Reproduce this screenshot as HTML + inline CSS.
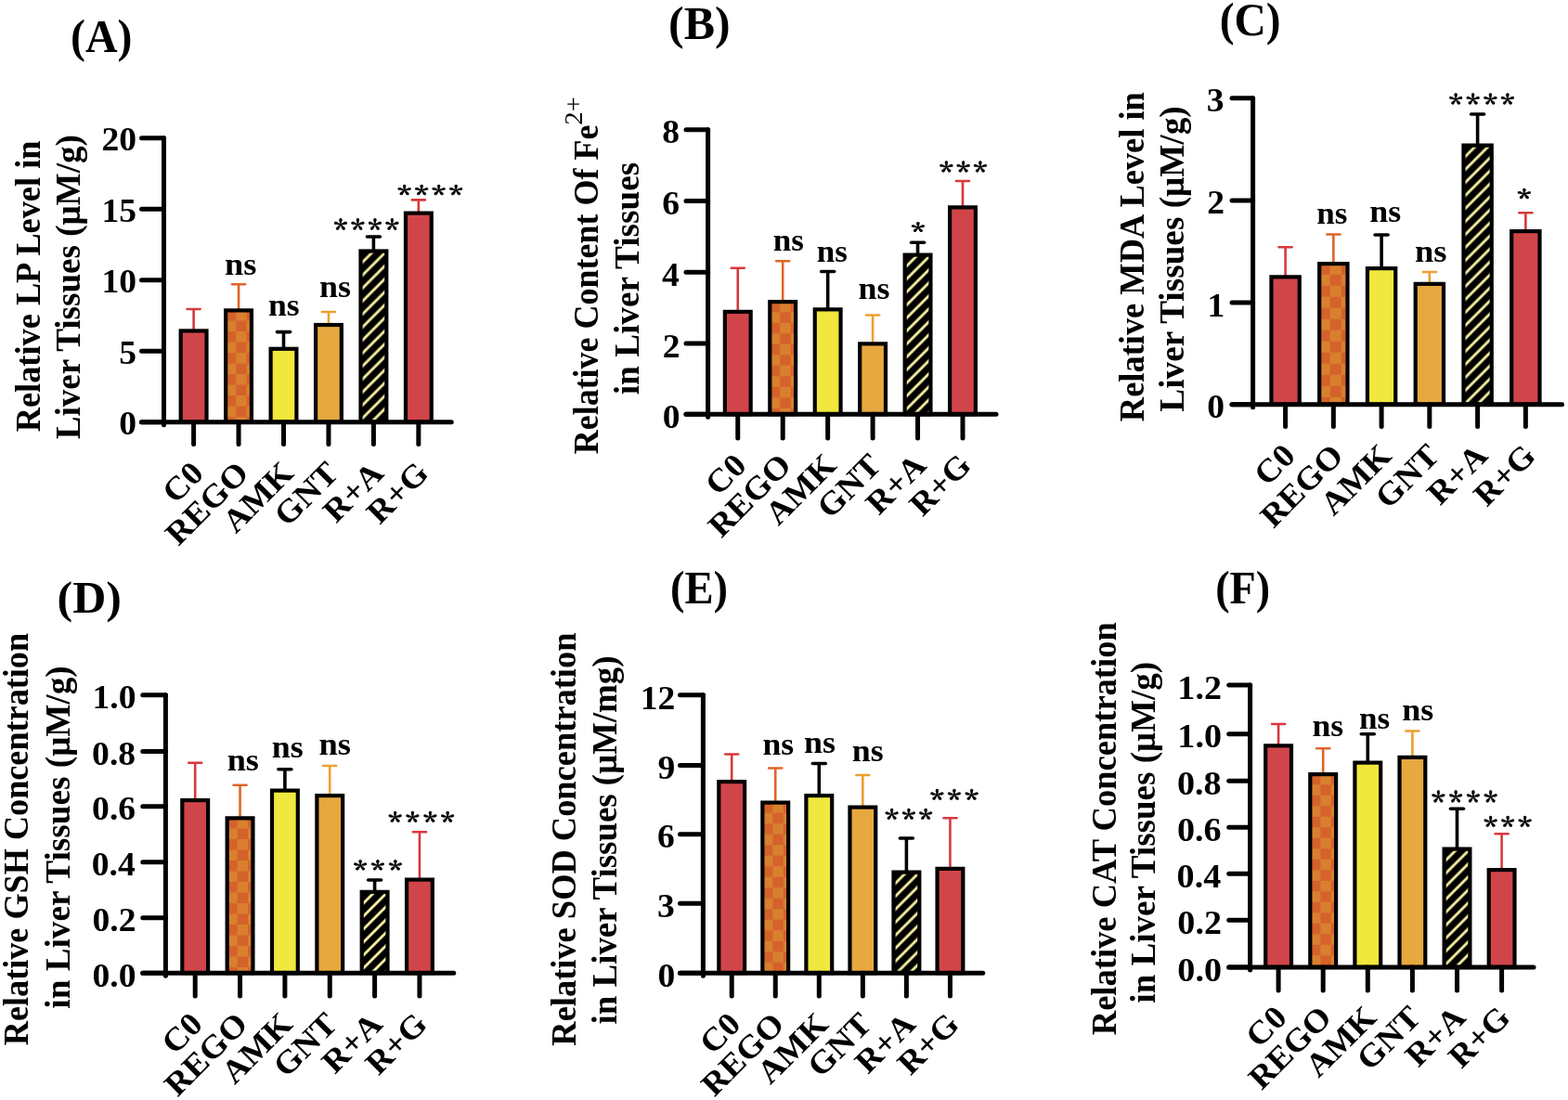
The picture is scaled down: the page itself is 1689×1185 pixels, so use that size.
<!DOCTYPE html>
<html><head><meta charset="utf-8"><title>Figure</title>
<style>html,body{margin:0;padding:0;background:#fff;}svg{display:block;}text{font-family:'Liberation Serif', 'Times New Roman', serif;}</style></head>
<body><svg width="1689" height="1185" viewBox="0 0 1689 1185">
<rect width="1689" height="1185" fill="#fff"/>
<defs><pattern id="pA1" x="242.65" y="334.10" width="23.00" height="23.00" patternUnits="userSpaceOnUse"><rect width="23.00" height="23.00" fill="#d9802f"/><rect width="11.50" height="11.50" fill="#d4622a"/><rect x="11.50" y="11.50" width="11.50" height="11.50" fill="#d4622a"/></pattern><pattern id="pA4" x="390.60" y="272.60" width="14" height="14" patternUnits="userSpaceOnUse"><rect width="14" height="14" fill="#000"/><path d="M-3.0,12.7 L12.7,-3.0 M6.7,17.0 L17.0,6.7" stroke="#faf3a4" stroke-width="2.8"/></pattern><pattern id="pB1" x="828.80" y="324.80" width="23.00" height="23.00" patternUnits="userSpaceOnUse"><rect width="23.00" height="23.00" fill="#d9802f"/><rect width="11.50" height="11.50" fill="#d4622a"/><rect x="11.50" y="11.50" width="11.50" height="11.50" fill="#d4622a"/></pattern><pattern id="pB4" x="976.75" y="276.70" width="14" height="14" patternUnits="userSpaceOnUse"><rect width="14" height="14" fill="#000"/><path d="M-3.0,12.7 L12.7,-3.0 M6.7,17.0 L17.0,6.7" stroke="#faf3a4" stroke-width="2.8"/></pattern><pattern id="pC1" x="1420.70" y="283.80" width="24.00" height="24.00" patternUnits="userSpaceOnUse"><rect width="24.00" height="24.00" fill="#d9802f"/><rect width="12.00" height="12.00" fill="#d4622a"/><rect x="12.00" y="12.00" width="12.00" height="12.00" fill="#d4622a"/></pattern><pattern id="pC4" x="1578.55" y="158.70" width="14" height="14" patternUnits="userSpaceOnUse"><rect width="14" height="14" fill="#000"/><path d="M-3.0,12.7 L12.7,-3.0 M6.7,17.0 L17.0,6.7" stroke="#faf3a4" stroke-width="2.8"/></pattern><pattern id="pD1" x="244.15" y="881.05" width="23.00" height="23.00" patternUnits="userSpaceOnUse"><rect width="23.00" height="23.00" fill="#d9802f"/><rect width="11.50" height="11.50" fill="#d4622a"/><rect x="11.50" y="11.50" width="11.50" height="11.50" fill="#d4622a"/></pattern><pattern id="pD4" x="391.80" y="962.95" width="14" height="14" patternUnits="userSpaceOnUse"><rect width="14" height="14" fill="#000"/><path d="M-3.0,12.7 L12.7,-3.0 M6.7,17.0 L17.0,6.7" stroke="#faf3a4" stroke-width="2.8"/></pattern><pattern id="pE1" x="820.85" y="864.30" width="23.00" height="23.00" patternUnits="userSpaceOnUse"><rect width="23.00" height="23.00" fill="#d9802f"/><rect width="11.50" height="11.50" fill="#d4622a"/><rect x="11.50" y="11.50" width="11.50" height="11.50" fill="#d4622a"/></pattern><pattern id="pE4" x="964.60" y="941.70" width="14" height="14" patternUnits="userSpaceOnUse"><rect width="14" height="14" fill="#000"/><path d="M-3.0,12.7 L12.7,-3.0 M6.7,17.0 L17.0,6.7" stroke="#faf3a4" stroke-width="2.8"/></pattern><pattern id="pF1" x="1410.80" y="833.80" width="23.00" height="23.00" patternUnits="userSpaceOnUse"><rect width="23.00" height="23.00" fill="#d9802f"/><rect width="11.50" height="11.50" fill="#d4622a"/><rect x="11.50" y="11.50" width="11.50" height="11.50" fill="#d4622a"/></pattern><pattern id="pF4" x="1557.70" y="916.70" width="14" height="14" patternUnits="userSpaceOnUse"><rect width="14" height="14" fill="#000"/><path d="M-3.0,12.7 L12.7,-3.0 M6.7,17.0 L17.0,6.7" stroke="#faf3a4" stroke-width="2.8"/></pattern></defs>
<line x1="208.60" y1="356.30" x2="208.60" y2="333.00" stroke="#d8383c" stroke-width="2.6"/>
<line x1="201.60" y1="333.00" x2="215.60" y2="333.00" stroke="#d8383c" stroke-width="2.6" stroke-linecap="round"/>
<rect x="194.70" y="356.40" width="27.80" height="98.30" fill="#d0454a" stroke="#000" stroke-width="4.2"/>
<line x1="208.60" y1="454.70" x2="208.60" y2="478.50" stroke="#000" stroke-width="5" stroke-linecap="round"/>
<line x1="257.05" y1="334.30" x2="257.05" y2="306.30" stroke="#e0642a" stroke-width="2.6"/>
<line x1="250.05" y1="306.30" x2="264.05" y2="306.30" stroke="#e0642a" stroke-width="2.6" stroke-linecap="round"/>
<rect x="243.15" y="334.40" width="27.80" height="120.30" fill="url(#pA1)" stroke="#000" stroke-width="4.2"/>
<line x1="257.05" y1="454.70" x2="257.05" y2="478.50" stroke="#000" stroke-width="5" stroke-linecap="round"/>
<line x1="305.50" y1="375.70" x2="305.50" y2="357.60" stroke="#000" stroke-width="3.6"/>
<line x1="298.50" y1="357.60" x2="312.50" y2="357.60" stroke="#000" stroke-width="3.6" stroke-linecap="round"/>
<rect x="291.60" y="375.80" width="27.80" height="78.90" fill="#f0e83c" stroke="#000" stroke-width="4.2"/>
<line x1="305.50" y1="454.70" x2="305.50" y2="478.50" stroke="#000" stroke-width="5" stroke-linecap="round"/>
<line x1="353.95" y1="349.90" x2="353.95" y2="336.00" stroke="#eba030" stroke-width="2.6"/>
<line x1="346.95" y1="336.00" x2="360.95" y2="336.00" stroke="#eba030" stroke-width="2.6" stroke-linecap="round"/>
<rect x="340.05" y="350.00" width="27.80" height="104.70" fill="#e6a83f" stroke="#000" stroke-width="4.2"/>
<line x1="353.95" y1="454.70" x2="353.95" y2="478.50" stroke="#000" stroke-width="5" stroke-linecap="round"/>
<line x1="402.40" y1="270.40" x2="402.40" y2="255.00" stroke="#000" stroke-width="3.6"/>
<line x1="395.40" y1="255.00" x2="409.40" y2="255.00" stroke="#000" stroke-width="3.6" stroke-linecap="round"/>
<rect x="388.50" y="270.50" width="27.80" height="184.20" fill="url(#pA4)" stroke="#000" stroke-width="4.2"/>
<line x1="402.40" y1="454.70" x2="402.40" y2="478.50" stroke="#000" stroke-width="5" stroke-linecap="round"/>
<line x1="450.85" y1="229.50" x2="450.85" y2="215.40" stroke="#d8383c" stroke-width="2.6"/>
<line x1="443.85" y1="215.40" x2="457.85" y2="215.40" stroke="#d8383c" stroke-width="2.6" stroke-linecap="round"/>
<rect x="436.95" y="229.60" width="27.80" height="225.10" fill="#d0454a" stroke="#000" stroke-width="4.2"/>
<line x1="450.85" y1="454.70" x2="450.85" y2="478.50" stroke="#000" stroke-width="5" stroke-linecap="round"/>
<line x1="176.50" y1="148.75" x2="176.50" y2="457.70" stroke="#000" stroke-width="5" stroke-linecap="round"/>
<line x1="152.50" y1="454.70" x2="486.25" y2="454.70" stroke="#000" stroke-width="5" stroke-linecap="round"/>
<line x1="152.50" y1="148.75" x2="176.50" y2="148.75" stroke="#000" stroke-width="5" stroke-linecap="round"/>
<line x1="152.50" y1="225.25" x2="176.50" y2="225.25" stroke="#000" stroke-width="5" stroke-linecap="round"/>
<line x1="152.50" y1="301.75" x2="176.50" y2="301.75" stroke="#000" stroke-width="5" stroke-linecap="round"/>
<line x1="152.50" y1="378.25" x2="176.50" y2="378.25" stroke="#000" stroke-width="5" stroke-linecap="round"/>
<line x1="152.50" y1="454.70" x2="176.50" y2="454.70" stroke="#000" stroke-width="5" stroke-linecap="round"/>
<text transform="translate(109.48,161.93) scale(1.0600,1)" font-size="35.50" font-weight="bold">20</text>
<text transform="translate(109.48,238.79) scale(1.0600,1)" font-size="35.50" font-weight="bold">15</text>
<text transform="translate(109.48,315.11) scale(1.0600,1)" font-size="35.50" font-weight="bold">10</text>
<text transform="translate(128.29,391.61) scale(1.0600,1)" font-size="35.50" font-weight="bold">5</text>
<text transform="translate(128.29,467.88) scale(1.0600,1)" font-size="35.50" font-weight="bold">0</text>
<text transform="translate(221.10,511.70) rotate(-45) scale(1.060,1)" font-size="35" font-weight="bold" text-anchor="end">C0</text>
<text transform="translate(269.55,511.70) rotate(-45) scale(1.060,1)" font-size="35" font-weight="bold" text-anchor="end">REGO</text>
<text transform="translate(318.00,511.70) rotate(-45) scale(1.060,1)" font-size="35" font-weight="bold" text-anchor="end">AMK</text>
<text transform="translate(366.45,511.70) rotate(-45) scale(1.060,1)" font-size="35" font-weight="bold" text-anchor="end">GNT</text>
<text transform="translate(414.90,511.70) rotate(-45) scale(1.060,1)" font-size="35" font-weight="bold" text-anchor="end">R+A</text>
<text transform="translate(463.35,511.70) rotate(-45) scale(1.060,1)" font-size="35" font-weight="bold" text-anchor="end">R+G</text>
<text transform="translate(241.91,296.25) scale(1.0522,1)" font-size="34.60" font-weight="bold" fill="#000">ns</text>
<text transform="translate(288.93,339.65) scale(1.0310,1)" font-size="34.60" font-weight="bold" fill="#000">ns</text>
<text transform="translate(343.92,319.65) scale(1.0392,1)" font-size="34.60" font-weight="bold" fill="#000">ns</text>
<text transform="translate(359.39,258.58) scale(1.0716,1)" font-size="28.41" font-weight="bold" letter-spacing="3.49" stroke="#000" stroke-width="0.5" style="font-family:'Noto Serif CJK SC',serif">****</text>
<text transform="translate(428.14,219.97) scale(1.1907,1)" font-size="25.57" font-weight="bold" letter-spacing="3.14" stroke="#000" stroke-width="0.5" style="font-family:'Noto Serif CJK SC',serif">****</text>
<text transform="translate(76.09,56.37) scale(0.9633,1)" font-size="49.67" font-weight="bold" fill="#000">(A)</text>
<text transform="translate(42.50,465.23) rotate(-90) scale(0.9687,1)" font-size="37.50" font-weight="bold">Relative LP Level in</text>
<text transform="translate(86.10,473.34) rotate(-90) scale(0.9898,1)" font-size="37.50" font-weight="bold">Liver Tissues (μM/g)</text>
<line x1="794.75" y1="335.75" x2="794.75" y2="288.75" stroke="#d8383c" stroke-width="2.6"/>
<line x1="787.75" y1="288.75" x2="801.75" y2="288.75" stroke="#d8383c" stroke-width="2.6" stroke-linecap="round"/>
<rect x="780.85" y="335.85" width="27.80" height="110.35" fill="#d0454a" stroke="#000" stroke-width="4.2"/>
<line x1="794.75" y1="446.20" x2="794.75" y2="472.00" stroke="#000" stroke-width="5" stroke-linecap="round"/>
<line x1="843.20" y1="325.00" x2="843.20" y2="281.25" stroke="#e0642a" stroke-width="2.6"/>
<line x1="836.20" y1="281.25" x2="850.20" y2="281.25" stroke="#e0642a" stroke-width="2.6" stroke-linecap="round"/>
<rect x="829.30" y="325.10" width="27.80" height="121.10" fill="url(#pB1)" stroke="#000" stroke-width="4.2"/>
<line x1="843.20" y1="446.20" x2="843.20" y2="472.00" stroke="#000" stroke-width="5" stroke-linecap="round"/>
<line x1="891.65" y1="333.25" x2="891.65" y2="292.50" stroke="#000" stroke-width="3.6"/>
<line x1="884.65" y1="292.50" x2="898.65" y2="292.50" stroke="#000" stroke-width="3.6" stroke-linecap="round"/>
<rect x="877.75" y="333.35" width="27.80" height="112.85" fill="#f0e83c" stroke="#000" stroke-width="4.2"/>
<line x1="891.65" y1="446.20" x2="891.65" y2="472.00" stroke="#000" stroke-width="5" stroke-linecap="round"/>
<line x1="940.10" y1="370.25" x2="940.10" y2="339.50" stroke="#eba030" stroke-width="2.6"/>
<line x1="933.10" y1="339.50" x2="947.10" y2="339.50" stroke="#eba030" stroke-width="2.6" stroke-linecap="round"/>
<rect x="926.20" y="370.35" width="27.80" height="75.85" fill="#e6a83f" stroke="#000" stroke-width="4.2"/>
<line x1="940.10" y1="446.20" x2="940.10" y2="472.00" stroke="#000" stroke-width="5" stroke-linecap="round"/>
<line x1="988.55" y1="274.50" x2="988.55" y2="261.25" stroke="#000" stroke-width="3.6"/>
<line x1="981.55" y1="261.25" x2="995.55" y2="261.25" stroke="#000" stroke-width="3.6" stroke-linecap="round"/>
<rect x="974.65" y="274.60" width="27.80" height="171.60" fill="url(#pB4)" stroke="#000" stroke-width="4.2"/>
<line x1="988.55" y1="446.20" x2="988.55" y2="472.00" stroke="#000" stroke-width="5" stroke-linecap="round"/>
<line x1="1037.00" y1="223.25" x2="1037.00" y2="195.00" stroke="#d8383c" stroke-width="2.6"/>
<line x1="1030.00" y1="195.00" x2="1044.00" y2="195.00" stroke="#d8383c" stroke-width="2.6" stroke-linecap="round"/>
<rect x="1023.10" y="223.35" width="27.80" height="222.85" fill="#d0454a" stroke="#000" stroke-width="4.2"/>
<line x1="1037.00" y1="446.20" x2="1037.00" y2="472.00" stroke="#000" stroke-width="5" stroke-linecap="round"/>
<line x1="762.60" y1="139.70" x2="762.60" y2="449.20" stroke="#000" stroke-width="5" stroke-linecap="round"/>
<line x1="739.00" y1="446.20" x2="1073.00" y2="446.20" stroke="#000" stroke-width="5" stroke-linecap="round"/>
<line x1="739.00" y1="139.70" x2="762.60" y2="139.70" stroke="#000" stroke-width="5" stroke-linecap="round"/>
<line x1="739.00" y1="216.50" x2="762.60" y2="216.50" stroke="#000" stroke-width="5" stroke-linecap="round"/>
<line x1="739.00" y1="293.30" x2="762.60" y2="293.30" stroke="#000" stroke-width="5" stroke-linecap="round"/>
<line x1="739.00" y1="370.10" x2="762.60" y2="370.10" stroke="#000" stroke-width="5" stroke-linecap="round"/>
<line x1="739.00" y1="446.20" x2="762.60" y2="446.20" stroke="#000" stroke-width="5" stroke-linecap="round"/>
<text transform="translate(713.31,154.38) scale(1.0600,1)" font-size="35.50" font-weight="bold">8</text>
<text transform="translate(713.31,231.18) scale(1.0600,1)" font-size="35.50" font-weight="bold">6</text>
<text transform="translate(712.94,308.34) scale(1.0600,1)" font-size="35.50" font-weight="bold">4</text>
<text transform="translate(713.69,384.96) scale(1.0600,1)" font-size="35.50" font-weight="bold">2</text>
<text transform="translate(713.69,460.88) scale(1.0600,1)" font-size="35.50" font-weight="bold">0</text>
<text transform="translate(805.75,503.20) rotate(-45) scale(1.060,1)" font-size="35" font-weight="bold" text-anchor="end">C0</text>
<text transform="translate(854.20,503.20) rotate(-45) scale(1.060,1)" font-size="35" font-weight="bold" text-anchor="end">REGO</text>
<text transform="translate(902.65,503.20) rotate(-45) scale(1.060,1)" font-size="35" font-weight="bold" text-anchor="end">AMK</text>
<text transform="translate(951.10,503.20) rotate(-45) scale(1.060,1)" font-size="35" font-weight="bold" text-anchor="end">GNT</text>
<text transform="translate(999.55,503.20) rotate(-45) scale(1.060,1)" font-size="35" font-weight="bold" text-anchor="end">R+A</text>
<text transform="translate(1048.00,503.20) rotate(-45) scale(1.060,1)" font-size="35" font-weight="bold" text-anchor="end">R+G</text>
<text transform="translate(832.70,269.65) scale(1.0148,1)" font-size="34.60" font-weight="bold" fill="#000">ns</text>
<text transform="translate(879.70,282.15) scale(1.0148,1)" font-size="34.60" font-weight="bold" fill="#000">ns</text>
<text transform="translate(924.42,322.15) scale(1.0392,1)" font-size="34.60" font-weight="bold" fill="#000">ns</text>
<text transform="translate(981.39,259.31) scale(1.2758,1)" font-size="23.86" font-weight="bold" letter-spacing="0.00" stroke="#000" stroke-width="0.5" style="font-family:'Noto Serif CJK SC',serif">*</text>
<text transform="translate(1011.89,196.39) scale(1.1163,1)" font-size="27.27" font-weight="bold" letter-spacing="3.17" stroke="#000" stroke-width="0.5" style="font-family:'Noto Serif CJK SC',serif">***</text>
<text transform="translate(720.00,42.47) scale(1.0067,1)" font-size="49.67" font-weight="bold" fill="#000">(B)</text>
<text transform="translate(644.30,489.32) rotate(-90) scale(0.9598,1)" font-size="37.50" font-weight="bold">Relative Content Of Fe</text>
<text transform="translate(626.90,134.76) rotate(-90) scale(1.0463,1)" font-size="27.60" font-weight="normal">2+</text>
<text transform="translate(687.80,425.25) rotate(-90) scale(0.9944,1)" font-size="37.50" font-weight="bold">in Liver Tissues</text>
<line x1="1384.60" y1="298.25" x2="1384.60" y2="266.25" stroke="#d8383c" stroke-width="2.6"/>
<line x1="1377.60" y1="266.25" x2="1391.60" y2="266.25" stroke="#d8383c" stroke-width="2.6" stroke-linecap="round"/>
<rect x="1369.45" y="298.35" width="30.30" height="137.40" fill="#d0454a" stroke="#000" stroke-width="4.2"/>
<line x1="1384.60" y1="435.75" x2="1384.60" y2="459.50" stroke="#000" stroke-width="5" stroke-linecap="round"/>
<line x1="1436.35" y1="284.00" x2="1436.35" y2="252.50" stroke="#e0642a" stroke-width="2.6"/>
<line x1="1429.35" y1="252.50" x2="1443.35" y2="252.50" stroke="#e0642a" stroke-width="2.6" stroke-linecap="round"/>
<rect x="1421.20" y="284.10" width="30.30" height="151.65" fill="url(#pC1)" stroke="#000" stroke-width="4.2"/>
<line x1="1436.35" y1="435.75" x2="1436.35" y2="459.50" stroke="#000" stroke-width="5" stroke-linecap="round"/>
<line x1="1488.10" y1="289.00" x2="1488.10" y2="253.00" stroke="#000" stroke-width="3.6"/>
<line x1="1481.10" y1="253.00" x2="1495.10" y2="253.00" stroke="#000" stroke-width="3.6" stroke-linecap="round"/>
<rect x="1472.95" y="289.10" width="30.30" height="146.65" fill="#f0e83c" stroke="#000" stroke-width="4.2"/>
<line x1="1488.10" y1="435.75" x2="1488.10" y2="459.50" stroke="#000" stroke-width="5" stroke-linecap="round"/>
<line x1="1539.85" y1="305.75" x2="1539.85" y2="293.00" stroke="#eba030" stroke-width="2.6"/>
<line x1="1532.85" y1="293.00" x2="1546.85" y2="293.00" stroke="#eba030" stroke-width="2.6" stroke-linecap="round"/>
<rect x="1524.70" y="305.85" width="30.30" height="129.90" fill="#e6a83f" stroke="#000" stroke-width="4.2"/>
<line x1="1539.85" y1="435.75" x2="1539.85" y2="459.50" stroke="#000" stroke-width="5" stroke-linecap="round"/>
<line x1="1591.60" y1="156.50" x2="1591.60" y2="123.00" stroke="#000" stroke-width="3.6"/>
<line x1="1584.60" y1="123.00" x2="1598.60" y2="123.00" stroke="#000" stroke-width="3.6" stroke-linecap="round"/>
<rect x="1576.45" y="156.60" width="30.30" height="279.15" fill="url(#pC4)" stroke="#000" stroke-width="4.2"/>
<line x1="1591.60" y1="435.75" x2="1591.60" y2="459.50" stroke="#000" stroke-width="5" stroke-linecap="round"/>
<line x1="1643.35" y1="249.00" x2="1643.35" y2="229.25" stroke="#d8383c" stroke-width="2.6"/>
<line x1="1636.35" y1="229.25" x2="1650.35" y2="229.25" stroke="#d8383c" stroke-width="2.6" stroke-linecap="round"/>
<rect x="1628.20" y="249.10" width="30.30" height="186.65" fill="#d0454a" stroke="#000" stroke-width="4.2"/>
<line x1="1643.35" y1="435.75" x2="1643.35" y2="459.50" stroke="#000" stroke-width="5" stroke-linecap="round"/>
<line x1="1349.60" y1="105.75" x2="1349.60" y2="438.75" stroke="#000" stroke-width="5" stroke-linecap="round"/>
<line x1="1327.00" y1="435.75" x2="1682.50" y2="435.75" stroke="#000" stroke-width="5" stroke-linecap="round"/>
<line x1="1327.00" y1="105.75" x2="1349.60" y2="105.75" stroke="#000" stroke-width="5" stroke-linecap="round"/>
<line x1="1327.00" y1="216.00" x2="1349.60" y2="216.00" stroke="#000" stroke-width="5" stroke-linecap="round"/>
<line x1="1327.00" y1="326.00" x2="1349.60" y2="326.00" stroke="#000" stroke-width="5" stroke-linecap="round"/>
<line x1="1327.00" y1="435.75" x2="1349.60" y2="435.75" stroke="#000" stroke-width="5" stroke-linecap="round"/>
<text transform="translate(1299.81,119.93) scale(1.0600,1)" font-size="35.50" font-weight="bold">3</text>
<text transform="translate(1300.19,230.36) scale(1.0600,1)" font-size="35.50" font-weight="bold">2</text>
<text transform="translate(1300.57,340.71) scale(1.0600,1)" font-size="35.50" font-weight="bold">1</text>
<text transform="translate(1300.19,449.93) scale(1.0600,1)" font-size="35.50" font-weight="bold">0</text>
<text transform="translate(1397.10,492.75) rotate(-45) scale(1.060,1)" font-size="35" font-weight="bold" text-anchor="end">C0</text>
<text transform="translate(1448.85,492.75) rotate(-45) scale(1.060,1)" font-size="35" font-weight="bold" text-anchor="end">REGO</text>
<text transform="translate(1500.60,492.75) rotate(-45) scale(1.060,1)" font-size="35" font-weight="bold" text-anchor="end">AMK</text>
<text transform="translate(1552.35,492.75) rotate(-45) scale(1.060,1)" font-size="35" font-weight="bold" text-anchor="end">GNT</text>
<text transform="translate(1604.10,492.75) rotate(-45) scale(1.060,1)" font-size="35" font-weight="bold" text-anchor="end">R+A</text>
<text transform="translate(1655.85,492.75) rotate(-45) scale(1.060,1)" font-size="35" font-weight="bold" text-anchor="end">R+G</text>
<text transform="translate(1418.20,240.90) scale(1.0148,1)" font-size="34.60" font-weight="bold" fill="#000">ns</text>
<text transform="translate(1475.17,238.90) scale(1.0392,1)" font-size="34.60" font-weight="bold" fill="#000">ns</text>
<text transform="translate(1523.90,282.15) scale(1.0554,1)" font-size="34.60" font-weight="bold" fill="#000">ns</text>
<text transform="translate(1560.64,122.64) scale(1.1163,1)" font-size="27.27" font-weight="bold" letter-spacing="3.50" stroke="#000" stroke-width="0.5" style="font-family:'Noto Serif CJK SC',serif">****</text>
<text transform="translate(1634.39,223.72) scale(1.1907,1)" font-size="25.57" font-weight="bold" letter-spacing="0.00" stroke="#000" stroke-width="0.5" style="font-family:'Noto Serif CJK SC',serif">*</text>
<text transform="translate(1313.70,38.25) scale(0.9550,1)" font-size="49.78" font-weight="bold" fill="#000">(C)</text>
<text transform="translate(1231.70,454.13) rotate(-90) scale(0.9711,1)" font-size="37.50" font-weight="bold">Relative MDA Level in</text>
<text transform="translate(1275.20,443.64) rotate(-90) scale(0.9932,1)" font-size="37.50" font-weight="bold">Liver Tissues (μM/g)</text>
<line x1="210.20" y1="862.00" x2="210.20" y2="821.75" stroke="#d8383c" stroke-width="2.6"/>
<line x1="203.20" y1="821.75" x2="217.20" y2="821.75" stroke="#d8383c" stroke-width="2.6" stroke-linecap="round"/>
<rect x="196.30" y="862.10" width="27.80" height="186.10" fill="#d0454a" stroke="#000" stroke-width="4.2"/>
<line x1="210.20" y1="1048.20" x2="210.20" y2="1073.00" stroke="#000" stroke-width="5" stroke-linecap="round"/>
<line x1="258.55" y1="881.25" x2="258.55" y2="845.75" stroke="#e0642a" stroke-width="2.6"/>
<line x1="251.55" y1="845.75" x2="265.55" y2="845.75" stroke="#e0642a" stroke-width="2.6" stroke-linecap="round"/>
<rect x="244.65" y="881.35" width="27.80" height="166.85" fill="url(#pD1)" stroke="#000" stroke-width="4.2"/>
<line x1="258.55" y1="1048.20" x2="258.55" y2="1073.00" stroke="#000" stroke-width="5" stroke-linecap="round"/>
<line x1="306.90" y1="851.50" x2="306.90" y2="828.75" stroke="#000" stroke-width="3.6"/>
<line x1="299.90" y1="828.75" x2="313.90" y2="828.75" stroke="#000" stroke-width="3.6" stroke-linecap="round"/>
<rect x="293.00" y="851.60" width="27.80" height="196.60" fill="#f0e83c" stroke="#000" stroke-width="4.2"/>
<line x1="306.90" y1="1048.20" x2="306.90" y2="1073.00" stroke="#000" stroke-width="5" stroke-linecap="round"/>
<line x1="355.25" y1="857.00" x2="355.25" y2="825.00" stroke="#eba030" stroke-width="2.6"/>
<line x1="348.25" y1="825.00" x2="362.25" y2="825.00" stroke="#eba030" stroke-width="2.6" stroke-linecap="round"/>
<rect x="341.35" y="857.10" width="27.80" height="191.10" fill="#e6a83f" stroke="#000" stroke-width="4.2"/>
<line x1="355.25" y1="1048.20" x2="355.25" y2="1073.00" stroke="#000" stroke-width="5" stroke-linecap="round"/>
<line x1="403.60" y1="960.75" x2="403.60" y2="948.00" stroke="#000" stroke-width="3.6"/>
<line x1="396.60" y1="948.00" x2="410.60" y2="948.00" stroke="#000" stroke-width="3.6" stroke-linecap="round"/>
<rect x="389.70" y="960.85" width="27.80" height="87.35" fill="url(#pD4)" stroke="#000" stroke-width="4.2"/>
<line x1="403.60" y1="1048.20" x2="403.60" y2="1073.00" stroke="#000" stroke-width="5" stroke-linecap="round"/>
<line x1="451.95" y1="947.50" x2="451.95" y2="896.25" stroke="#d8383c" stroke-width="2.6"/>
<line x1="444.95" y1="896.25" x2="458.95" y2="896.25" stroke="#d8383c" stroke-width="2.6" stroke-linecap="round"/>
<rect x="438.05" y="947.60" width="27.80" height="100.60" fill="#d0454a" stroke="#000" stroke-width="4.2"/>
<line x1="451.95" y1="1048.20" x2="451.95" y2="1073.00" stroke="#000" stroke-width="5" stroke-linecap="round"/>
<line x1="178.40" y1="748.75" x2="178.40" y2="1051.20" stroke="#000" stroke-width="5" stroke-linecap="round"/>
<line x1="153.75" y1="1048.20" x2="488.75" y2="1048.20" stroke="#000" stroke-width="5" stroke-linecap="round"/>
<line x1="153.75" y1="748.75" x2="178.40" y2="748.75" stroke="#000" stroke-width="5" stroke-linecap="round"/>
<line x1="153.75" y1="809.50" x2="178.40" y2="809.50" stroke="#000" stroke-width="5" stroke-linecap="round"/>
<line x1="153.75" y1="868.75" x2="178.40" y2="868.75" stroke="#000" stroke-width="5" stroke-linecap="round"/>
<line x1="153.75" y1="928.75" x2="178.40" y2="928.75" stroke="#000" stroke-width="5" stroke-linecap="round"/>
<line x1="153.75" y1="988.75" x2="178.40" y2="988.75" stroke="#000" stroke-width="5" stroke-linecap="round"/>
<line x1="153.75" y1="1048.20" x2="178.40" y2="1048.20" stroke="#000" stroke-width="5" stroke-linecap="round"/>
<text transform="translate(99.47,763.31) scale(1.0600,1)" font-size="35.50" font-weight="bold">1.0</text>
<text transform="translate(99.09,823.88) scale(1.0600,1)" font-size="35.50" font-weight="bold">0.8</text>
<text transform="translate(99.09,883.13) scale(1.0600,1)" font-size="35.50" font-weight="bold">0.6</text>
<text transform="translate(98.72,943.13) scale(1.0600,1)" font-size="35.50" font-weight="bold">0.4</text>
<text transform="translate(99.47,1003.13) scale(1.0600,1)" font-size="35.50" font-weight="bold">0.2</text>
<text transform="translate(99.47,1062.58) scale(1.0600,1)" font-size="35.50" font-weight="bold">0.0</text>
<text transform="translate(220.20,1105.20) rotate(-45) scale(1.060,1)" font-size="35" font-weight="bold" text-anchor="end">C0</text>
<text transform="translate(268.55,1105.20) rotate(-45) scale(1.060,1)" font-size="35" font-weight="bold" text-anchor="end">REGO</text>
<text transform="translate(316.90,1105.20) rotate(-45) scale(1.060,1)" font-size="35" font-weight="bold" text-anchor="end">AMK</text>
<text transform="translate(365.25,1105.20) rotate(-45) scale(1.060,1)" font-size="35" font-weight="bold" text-anchor="end">GNT</text>
<text transform="translate(413.60,1105.20) rotate(-45) scale(1.060,1)" font-size="35" font-weight="bold" text-anchor="end">R+A</text>
<text transform="translate(461.95,1105.20) rotate(-45) scale(1.060,1)" font-size="35" font-weight="bold" text-anchor="end">R+G</text>
<text transform="translate(244.66,829.65) scale(1.0473,1)" font-size="34.60" font-weight="bold" fill="#000">ns</text>
<text transform="translate(292.67,815.90) scale(1.0392,1)" font-size="34.60" font-weight="bold" fill="#000">ns</text>
<text transform="translate(343.40,813.40) scale(1.0554,1)" font-size="34.60" font-weight="bold" fill="#000">ns</text>
<text transform="translate(380.64,946.53) scale(1.2461,1)" font-size="24.43" font-weight="bold" letter-spacing="3.34" stroke="#000" stroke-width="0.5" style="font-family:'Noto Serif CJK SC',serif">***</text>
<text transform="translate(418.14,895.91) scale(1.1400,1)" font-size="26.70" font-weight="bold" letter-spacing="3.64" stroke="#000" stroke-width="0.5" style="font-family:'Noto Serif CJK SC',serif">****</text>
<text transform="translate(61.50,660.43) scale(1.0227,1)" font-size="48.89" font-weight="bold" fill="#000">(D)</text>
<text transform="translate(29.80,1126.22) rotate(-90) scale(0.9403,1)" font-size="38.50" font-weight="bold">Relative GSH Concentration</text>
<text transform="translate(74.70,1086.64) rotate(-90) scale(0.9663,1)" font-size="38.50" font-weight="bold">in Liver Tissues (μM/g)</text>
<line x1="788.20" y1="842.00" x2="788.20" y2="812.50" stroke="#d8383c" stroke-width="2.6"/>
<line x1="781.20" y1="812.50" x2="795.20" y2="812.50" stroke="#d8383c" stroke-width="2.6" stroke-linecap="round"/>
<rect x="774.30" y="842.10" width="27.80" height="206.15" fill="#d0454a" stroke="#000" stroke-width="4.2"/>
<line x1="788.20" y1="1048.25" x2="788.20" y2="1073.00" stroke="#000" stroke-width="5" stroke-linecap="round"/>
<line x1="835.25" y1="864.50" x2="835.25" y2="827.50" stroke="#e0642a" stroke-width="2.6"/>
<line x1="828.25" y1="827.50" x2="842.25" y2="827.50" stroke="#e0642a" stroke-width="2.6" stroke-linecap="round"/>
<rect x="821.35" y="864.60" width="27.80" height="183.65" fill="url(#pE1)" stroke="#000" stroke-width="4.2"/>
<line x1="835.25" y1="1048.25" x2="835.25" y2="1073.00" stroke="#000" stroke-width="5" stroke-linecap="round"/>
<line x1="882.30" y1="857.00" x2="882.30" y2="822.50" stroke="#000" stroke-width="3.6"/>
<line x1="875.30" y1="822.50" x2="889.30" y2="822.50" stroke="#000" stroke-width="3.6" stroke-linecap="round"/>
<rect x="868.40" y="857.10" width="27.80" height="191.15" fill="#f0e83c" stroke="#000" stroke-width="4.2"/>
<line x1="882.30" y1="1048.25" x2="882.30" y2="1073.00" stroke="#000" stroke-width="5" stroke-linecap="round"/>
<line x1="929.35" y1="869.50" x2="929.35" y2="835.00" stroke="#eba030" stroke-width="2.6"/>
<line x1="922.35" y1="835.00" x2="936.35" y2="835.00" stroke="#eba030" stroke-width="2.6" stroke-linecap="round"/>
<rect x="915.45" y="869.60" width="27.80" height="178.65" fill="#e6a83f" stroke="#000" stroke-width="4.2"/>
<line x1="929.35" y1="1048.25" x2="929.35" y2="1073.00" stroke="#000" stroke-width="5" stroke-linecap="round"/>
<line x1="976.40" y1="939.50" x2="976.40" y2="903.00" stroke="#000" stroke-width="3.6"/>
<line x1="969.40" y1="903.00" x2="983.40" y2="903.00" stroke="#000" stroke-width="3.6" stroke-linecap="round"/>
<rect x="962.50" y="939.60" width="27.80" height="108.65" fill="url(#pE4)" stroke="#000" stroke-width="4.2"/>
<line x1="976.40" y1="1048.25" x2="976.40" y2="1073.00" stroke="#000" stroke-width="5" stroke-linecap="round"/>
<line x1="1023.45" y1="935.75" x2="1023.45" y2="881.25" stroke="#d8383c" stroke-width="2.6"/>
<line x1="1016.45" y1="881.25" x2="1030.45" y2="881.25" stroke="#d8383c" stroke-width="2.6" stroke-linecap="round"/>
<rect x="1009.55" y="935.85" width="27.80" height="112.40" fill="#d0454a" stroke="#000" stroke-width="4.2"/>
<line x1="1023.45" y1="1048.25" x2="1023.45" y2="1073.00" stroke="#000" stroke-width="5" stroke-linecap="round"/>
<line x1="757.40" y1="748.75" x2="757.40" y2="1051.25" stroke="#000" stroke-width="5" stroke-linecap="round"/>
<line x1="732.50" y1="1048.25" x2="1058.75" y2="1048.25" stroke="#000" stroke-width="5" stroke-linecap="round"/>
<line x1="732.50" y1="748.75" x2="757.40" y2="748.75" stroke="#000" stroke-width="5" stroke-linecap="round"/>
<line x1="732.50" y1="824.50" x2="757.40" y2="824.50" stroke="#000" stroke-width="5" stroke-linecap="round"/>
<line x1="732.50" y1="898.75" x2="757.40" y2="898.75" stroke="#000" stroke-width="5" stroke-linecap="round"/>
<line x1="732.50" y1="973.25" x2="757.40" y2="973.25" stroke="#000" stroke-width="5" stroke-linecap="round"/>
<line x1="732.50" y1="1048.25" x2="757.40" y2="1048.25" stroke="#000" stroke-width="5" stroke-linecap="round"/>
<text transform="translate(689.63,763.79) scale(1.0600,1)" font-size="35.50" font-weight="bold">12</text>
<text transform="translate(708.44,839.18) scale(1.0600,1)" font-size="35.50" font-weight="bold">9</text>
<text transform="translate(708.06,913.43) scale(1.0600,1)" font-size="35.50" font-weight="bold">6</text>
<text transform="translate(708.06,987.93) scale(1.0600,1)" font-size="35.50" font-weight="bold">3</text>
<text transform="translate(708.44,1062.93) scale(1.0600,1)" font-size="35.50" font-weight="bold">0</text>
<text transform="translate(799.70,1105.25) rotate(-45) scale(1.060,1)" font-size="35" font-weight="bold" text-anchor="end">C0</text>
<text transform="translate(846.75,1105.25) rotate(-45) scale(1.060,1)" font-size="35" font-weight="bold" text-anchor="end">REGO</text>
<text transform="translate(893.80,1105.25) rotate(-45) scale(1.060,1)" font-size="35" font-weight="bold" text-anchor="end">AMK</text>
<text transform="translate(940.85,1105.25) rotate(-45) scale(1.060,1)" font-size="35" font-weight="bold" text-anchor="end">GNT</text>
<text transform="translate(987.90,1105.25) rotate(-45) scale(1.060,1)" font-size="35" font-weight="bold" text-anchor="end">R+A</text>
<text transform="translate(1034.95,1105.25) rotate(-45) scale(1.060,1)" font-size="35" font-weight="bold" text-anchor="end">R+G</text>
<text transform="translate(821.43,812.65) scale(1.0310,1)" font-size="34.60" font-weight="bold" fill="#000">ns</text>
<text transform="translate(865.92,810.90) scale(1.0392,1)" font-size="34.60" font-weight="bold" fill="#000">ns</text>
<text transform="translate(917.67,819.65) scale(1.0392,1)" font-size="34.60" font-weight="bold" fill="#000">ns</text>
<text transform="translate(953.14,893.41) scale(1.1400,1)" font-size="26.70" font-weight="bold" letter-spacing="3.10" stroke="#000" stroke-width="0.5" style="font-family:'Noto Serif CJK SC',serif">***</text>
<text transform="translate(1001.89,871.66) scale(1.1400,1)" font-size="26.70" font-weight="bold" letter-spacing="3.43" stroke="#000" stroke-width="0.5" style="font-family:'Noto Serif CJK SC',serif">***</text>
<text transform="translate(721.93,650.42) scale(0.9349,1)" font-size="49.89" font-weight="bold" fill="#000">(E)</text>
<text transform="translate(620.30,1126.63) rotate(-90) scale(0.9715,1)" font-size="37.50" font-weight="bold">Relative SOD Concentration</text>
<text transform="translate(663.90,1103.44) rotate(-90) scale(0.9842,1)" font-size="37.50" font-weight="bold">in Liver Tissues (μM/mg)</text>
<line x1="1377.10" y1="803.25" x2="1377.10" y2="780.00" stroke="#d8383c" stroke-width="2.6"/>
<line x1="1370.10" y1="780.00" x2="1384.10" y2="780.00" stroke="#d8383c" stroke-width="2.6" stroke-linecap="round"/>
<rect x="1363.20" y="803.35" width="27.80" height="238.65" fill="#d0454a" stroke="#000" stroke-width="4.2"/>
<line x1="1377.10" y1="1042.00" x2="1377.10" y2="1067.00" stroke="#000" stroke-width="5" stroke-linecap="round"/>
<line x1="1425.20" y1="834.00" x2="1425.20" y2="806.25" stroke="#e0642a" stroke-width="2.6"/>
<line x1="1418.20" y1="806.25" x2="1432.20" y2="806.25" stroke="#e0642a" stroke-width="2.6" stroke-linecap="round"/>
<rect x="1411.30" y="834.10" width="27.80" height="207.90" fill="url(#pF1)" stroke="#000" stroke-width="4.2"/>
<line x1="1425.20" y1="1042.00" x2="1425.20" y2="1067.00" stroke="#000" stroke-width="5" stroke-linecap="round"/>
<line x1="1473.30" y1="821.50" x2="1473.30" y2="790.75" stroke="#000" stroke-width="3.6"/>
<line x1="1466.30" y1="790.75" x2="1480.30" y2="790.75" stroke="#000" stroke-width="3.6" stroke-linecap="round"/>
<rect x="1459.40" y="821.60" width="27.80" height="220.40" fill="#f0e83c" stroke="#000" stroke-width="4.2"/>
<line x1="1473.30" y1="1042.00" x2="1473.30" y2="1067.00" stroke="#000" stroke-width="5" stroke-linecap="round"/>
<line x1="1521.40" y1="815.75" x2="1521.40" y2="787.50" stroke="#eba030" stroke-width="2.6"/>
<line x1="1514.40" y1="787.50" x2="1528.40" y2="787.50" stroke="#eba030" stroke-width="2.6" stroke-linecap="round"/>
<rect x="1507.50" y="815.85" width="27.80" height="226.15" fill="#e6a83f" stroke="#000" stroke-width="4.2"/>
<line x1="1521.40" y1="1042.00" x2="1521.40" y2="1067.00" stroke="#000" stroke-width="5" stroke-linecap="round"/>
<line x1="1569.50" y1="914.50" x2="1569.50" y2="871.25" stroke="#000" stroke-width="3.6"/>
<line x1="1562.50" y1="871.25" x2="1576.50" y2="871.25" stroke="#000" stroke-width="3.6" stroke-linecap="round"/>
<rect x="1555.60" y="914.60" width="27.80" height="127.40" fill="url(#pF4)" stroke="#000" stroke-width="4.2"/>
<line x1="1569.50" y1="1042.00" x2="1569.50" y2="1067.00" stroke="#000" stroke-width="5" stroke-linecap="round"/>
<line x1="1617.60" y1="937.00" x2="1617.60" y2="898.25" stroke="#d8383c" stroke-width="2.6"/>
<line x1="1610.60" y1="898.25" x2="1624.60" y2="898.25" stroke="#d8383c" stroke-width="2.6" stroke-linecap="round"/>
<rect x="1603.70" y="937.10" width="27.80" height="104.90" fill="#d0454a" stroke="#000" stroke-width="4.2"/>
<line x1="1617.60" y1="1042.00" x2="1617.60" y2="1067.00" stroke="#000" stroke-width="5" stroke-linecap="round"/>
<line x1="1346.60" y1="738.00" x2="1346.60" y2="1045.00" stroke="#000" stroke-width="5" stroke-linecap="round"/>
<line x1="1323.75" y1="1042.00" x2="1652.00" y2="1042.00" stroke="#000" stroke-width="5" stroke-linecap="round"/>
<line x1="1323.75" y1="738.00" x2="1346.60" y2="738.00" stroke="#000" stroke-width="5" stroke-linecap="round"/>
<line x1="1323.75" y1="790.75" x2="1346.60" y2="790.75" stroke="#000" stroke-width="5" stroke-linecap="round"/>
<line x1="1323.75" y1="841.25" x2="1346.60" y2="841.25" stroke="#000" stroke-width="5" stroke-linecap="round"/>
<line x1="1323.75" y1="891.25" x2="1346.60" y2="891.25" stroke="#000" stroke-width="5" stroke-linecap="round"/>
<line x1="1323.75" y1="941.25" x2="1346.60" y2="941.25" stroke="#000" stroke-width="5" stroke-linecap="round"/>
<line x1="1323.75" y1="991.25" x2="1346.60" y2="991.25" stroke="#000" stroke-width="5" stroke-linecap="round"/>
<line x1="1323.75" y1="1042.00" x2="1346.60" y2="1042.00" stroke="#000" stroke-width="5" stroke-linecap="round"/>
<text transform="translate(1268.34,752.88) scale(1.0900,1)" font-size="35.00" font-weight="bold">1.2</text>
<text transform="translate(1268.34,805.45) scale(1.0900,1)" font-size="35.00" font-weight="bold">1.0</text>
<text transform="translate(1267.96,855.77) scale(1.0900,1)" font-size="35.00" font-weight="bold">0.8</text>
<text transform="translate(1267.96,905.77) scale(1.0900,1)" font-size="35.00" font-weight="bold">0.6</text>
<text transform="translate(1267.58,955.77) scale(1.0900,1)" font-size="35.00" font-weight="bold">0.4</text>
<text transform="translate(1268.34,1005.77) scale(1.0900,1)" font-size="35.00" font-weight="bold">0.2</text>
<text transform="translate(1268.34,1056.53) scale(1.0900,1)" font-size="35.00" font-weight="bold">0.0</text>
<text transform="translate(1388.10,1098.00) rotate(-45) scale(1.060,1)" font-size="35" font-weight="bold" text-anchor="end">C0</text>
<text transform="translate(1436.20,1098.00) rotate(-45) scale(1.060,1)" font-size="35" font-weight="bold" text-anchor="end">REGO</text>
<text transform="translate(1484.30,1098.00) rotate(-45) scale(1.060,1)" font-size="35" font-weight="bold" text-anchor="end">AMK</text>
<text transform="translate(1532.40,1098.00) rotate(-45) scale(1.060,1)" font-size="35" font-weight="bold" text-anchor="end">GNT</text>
<text transform="translate(1580.50,1098.00) rotate(-45) scale(1.060,1)" font-size="35" font-weight="bold" text-anchor="end">R+A</text>
<text transform="translate(1628.60,1098.00) rotate(-45) scale(1.060,1)" font-size="35" font-weight="bold" text-anchor="end">R+G</text>
<text transform="translate(1413.43,792.65) scale(1.0310,1)" font-size="34.60" font-weight="bold" fill="#000">ns</text>
<text transform="translate(1463.95,784.65) scale(1.0148,1)" font-size="34.60" font-weight="bold" fill="#000">ns</text>
<text transform="translate(1510.17,775.90) scale(1.0392,1)" font-size="34.60" font-weight="bold" fill="#000">ns</text>
<text transform="translate(1541.89,875.77) scale(1.0304,1)" font-size="29.55" font-weight="bold" letter-spacing="3.87" stroke="#000" stroke-width="0.5" style="font-family:'Noto Serif CJK SC',serif">****</text>
<text transform="translate(1598.14,900.91) scale(1.1400,1)" font-size="26.70" font-weight="bold" letter-spacing="3.32" stroke="#000" stroke-width="0.5" style="font-family:'Noto Serif CJK SC',serif">***</text>
<text transform="translate(1309.15,650.42) scale(0.9264,1)" font-size="49.89" font-weight="bold" fill="#000">(F)</text>
<text transform="translate(1201.70,1115.23) rotate(-90) scale(0.9612,1)" font-size="38.00" font-weight="bold">Relative CAT Concentration</text>
<text transform="translate(1244.30,1080.64) rotate(-90) scale(0.9750,1)" font-size="38.00" font-weight="bold">in Liver Tissues (μM/g)</text>
</svg></body></html>
